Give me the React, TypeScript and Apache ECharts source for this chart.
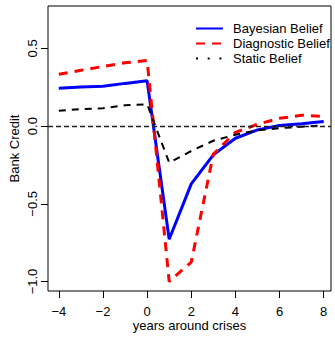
import React, { useEffect, useRef } from "react";
import * as echarts from "echarts";

// Years relative to the crisis year
const years = [-4, -3, -2, -1, 0, 1, 2, 3, 4, 5, 6, 7, 8];

// Bank credit paths under the three belief models
const bayesian = [0.244, 0.252, 0.256, 0.275, 0.292, -0.728, -0.372, -0.185, -0.078, -0.024, 0.004, 0.015, 0.03];
const diagnostic = [0.334, 0.359, 0.384, 0.408, 0.422, -1.0, -0.875, -0.18, -0.04, 0.012, 0.05, 0.07, 0.062];
const staticBelief = [0.099, 0.109, 0.115, 0.134, 0.141, -0.235, -0.16, -0.094, -0.055, -0.027, -0.013, -0.004, 0.004];

const xTicks = [-4, -2, 0, 2, 4, 6, 8];
const yTicks = [-1.0, -0.5, 0.0, 0.5];

const FONT = "'Liberation Sans', Arial, Helvetica, sans-serif";
const minus = (s: string) => s.replace("-", "\u2212");

const pairs = (ys: number[]) => years.map((x, i) => [x, ys[i]]);

export default function App() {
  const ref = useRef<HTMLDivElement>(null);

  useEffect(() => {
    if (!ref.current) return;
    const chart = echarts.init(ref.current, null, { renderer: "svg" });
    chart.setOption({
      animation: false,
      backgroundColor: "#fff",
      textStyle: { fontFamily: FONT },
      grid: {
        left: 44,
        right: 4,
        top: 6,
        bottom: 40,
        show: true,
        borderColor: "#000",
        borderWidth: 1,
        backgroundColor: "transparent",
      },
      legend: {
        orient: "vertical",
        left: 190,
        top: 17,
        itemWidth: 27,
        itemHeight: 10,
        itemGap: 2,
        itemStyle: { opacity: 0 },
        textStyle: { color: "#000", fontSize: 13, lineHeight: 13, fontFamily: FONT, padding: [0, 0, 0, 5] },
        data: [
          { name: "Bayesian Belief" },
          { name: "Diagnostic Belief" },
          { name: "Static Belief", lineStyle: { type: [2, 9.7], width: 2, color: "#000" } },
        ],
      },
      xAxis: {
        type: "value",
        min: -4.49,
        max: 8.33,
        name: "years around crises",
        nameLocation: "middle",
        nameGap: 28,
        nameMoveOverlap: false,
        nameTextStyle: { color: "#000", fontSize: 13, fontFamily: FONT, align: "center", verticalAlign: "top" },
        axisLine: { show: false, onZero: false },
        splitLine: { show: false },
        axisTick: { show: true, inside: false, length: 7, customValues: xTicks, lineStyle: { color: "#000", width: 1 } },
        axisLabel: {
          customValues: xTicks,
          margin: 14,
          align: "center",
          verticalAlign: "top",
          color: "#000",
          fontSize: 13,
          fontFamily: FONT,
          formatter: (v: number) => minus(String(v)),
        },
      },
      yAxis: {
        type: "value",
        min: -1.061,
        max: 0.773,
        name: "Bank Credit",
        nameLocation: "middle",
        nameRotate: 90,
        nameGap: 27,
        nameMoveOverlap: false,
        nameTextStyle: { color: "#000", fontSize: 13, fontFamily: FONT, align: "center", verticalAlign: "bottom" },
        axisLine: { show: false, onZero: false },
        splitLine: { show: false },
        axisTick: { show: true, inside: false, length: 7, customValues: yTicks, lineStyle: { color: "#000", width: 1 } },
        axisLabel: {
          customValues: yTicks,
          rotate: 90,
          margin: 9,
          align: "center",
          verticalAlign: "bottom",
          color: "#000",
          fontSize: 13,
          fontFamily: FONT,
          formatter: (v: number) => minus(v.toFixed(1)),
        },
      },
      series: [
        {
          name: "Bayesian Belief",
          type: "line",
          data: pairs(bayesian),
          symbol: "none",
          color: "#0000ff",
          lineStyle: { color: "#0000ff", width: 3 },
        },
        {
          name: "Diagnostic Belief",
          type: "line",
          data: pairs(diagnostic),
          symbol: "none",
          color: "#ff0000",
          lineStyle: { color: "#ff0000", width: 3, type: [9, 7] },
        },
        {
          name: "Static Belief",
          type: "line",
          data: pairs(staticBelief),
          symbol: "none",
          color: "#000",
          lineStyle: { color: "#000", width: 2, type: [7, 6] },
          markLine: {
            silent: true,
            symbol: "none",
            label: { show: false },
            lineStyle: { color: "#222", width: 1.3, type: [5, 3] },
            data: [{ yAxis: 0 }],
          },
        },
      ],
    });
    return () => chart.dispose();
  }, []);

  return <div ref={ref} style={{ position: "fixed", left: 0, top: 0, width: 335, height: 337 }} />;
}
